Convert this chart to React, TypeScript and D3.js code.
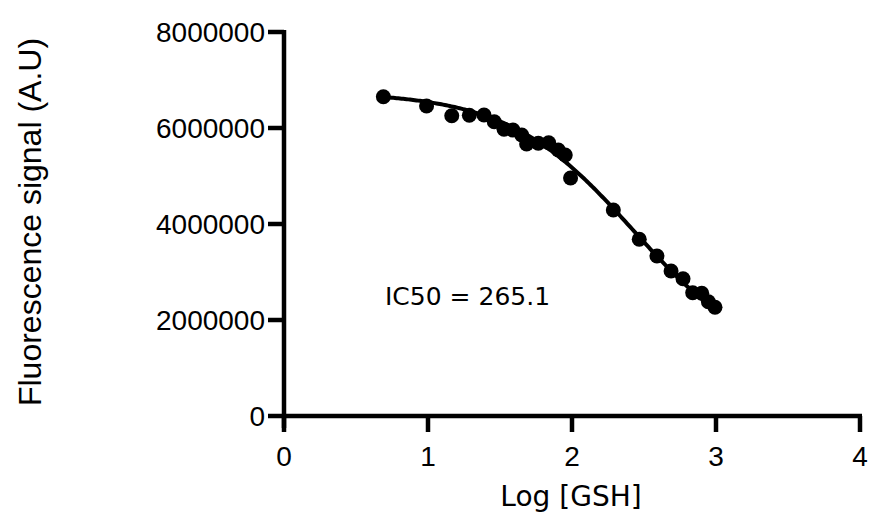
import React from "react";
import * as d3 from "d3";

// Data (log concentration vs fluorescence)
const logConc = [0.69, 0.99, 1.165, 1.287, 1.389, 1.46, 1.528, 1.59, 1.651, 1.685, 1.766, 1.838, 1.905, 1.953, 1.99, 2.287, 2.467, 2.59, 2.688, 2.771, 2.838, 2.901, 2.947, 2.993];
const signal = [6652000, 6458000, 6256000, 6265000, 6271000, 6131000, 5973000, 5958000, 5854000, 5667000, 5681000, 5694000, 5542000, 5438000, 4958000, 4292000, 3681000, 3333000, 3021000, 2860000, 2569000, 2556000, 2381000, 2265000];

// Four-parameter logistic fit parameters
const fitTop = 6750000;
const fitBottom = 1000000;
const fitLogIC50 = Math.log10(265.1);
const fitHill = 1.0;

const xTicks = [0, 1, 2, 3, 4];
const yTicks = [0, 2000000, 4000000, 6000000, 8000000];
const xTitle = "Log [GSH]";
const yTitle = "Fluorescence signal (A.U)";
const annotation = "IC50 = 265.1";

export default function App() {
  const W = 870, H = 519;
  const x = d3.scaleLinear().domain([0, 4]).range([284, 860]);
  const y = d3.scaleLinear().domain([0, 8000000]).range([416, 32]);

  const fit = (v: number) => fitBottom + (fitTop - fitBottom) / (1 + Math.pow(10, (v - fitLogIC50) * fitHill));
  const x0 = d3.min(logConc) as number;
  const x1 = d3.max(logConc) as number;
  const curvePts: [number, number][] = d3.range(0, 201).map((i) => {
    const v = x0 + ((x1 - x0) * i) / 200;
    return [v, fit(v)];
  });
  const line = d3.line<[number, number]>().x((d) => x(d[0])).y((d) => y(d[1]));

  const axisW = 4.5;
  const font = "'Liberation Sans', Arial, sans-serif";

  return (
    <svg width={W} height={H} style={{ position: "absolute", left: 0, top: 0, background: "#fff" }}>
      {/* Y axis */}
      <line x1={x(0)} x2={x(0)} y1={y(8000000) - 2} y2={428} stroke="#000" strokeWidth={axisW} />
      {yTicks.map((t) => (
        <g key={"y" + t}>
          <line x1={x(0) - 16} x2={x(0)} y1={y(t)} y2={y(t)} stroke="#000" strokeWidth={axisW} />
          <text x={265} y={y(t)} dy="0.36em" textAnchor="end" fontFamily={font} fontSize={28} fill="#000">
            {t}
          </text>
        </g>
      ))}
      {/* X axis */}
      <line x1={x(0)} x2={x(4) + 2} y1={y(0)} y2={y(0)} stroke="#000" strokeWidth={axisW} />
      {xTicks.map((t) => (
        <g key={"x" + t}>
          <line x1={x(t)} x2={x(t)} y1={y(0)} y2={y(0) + 16} stroke="#000" strokeWidth={axisW} />
          <text x={x(t)} y={466} textAnchor="middle" fontFamily={font} fontSize={28} fill="#000">
            {t}
          </text>
        </g>
      ))}
      {/* Titles */}
      <text x={571} y={506} textAnchor="middle" fontFamily="'DejaVu Sans', sans-serif" fontSize={28} fill="#000">
        {xTitle}
      </text>
      <text transform={`translate(41,222) rotate(-90)`} textAnchor="middle" fontFamily={font} fontSize={32} fill="#000">
        {yTitle}
      </text>
      {/* Fit curve */}
      <path d={line(curvePts) || ""} fill="none" stroke="#000" strokeWidth={4} />
      {/* Points */}
      {logConc.map((v, i) => (
        <circle key={i} cx={x(v)} cy={y(signal[i])} r={7.5} fill="#000" />
      ))}
      {/* Annotation */}
      <text x={385} y={305} fontFamily="'DejaVu Sans', sans-serif" fontSize={25} fill="#000">
        {annotation}
      </text>
    </svg>
  );
}
